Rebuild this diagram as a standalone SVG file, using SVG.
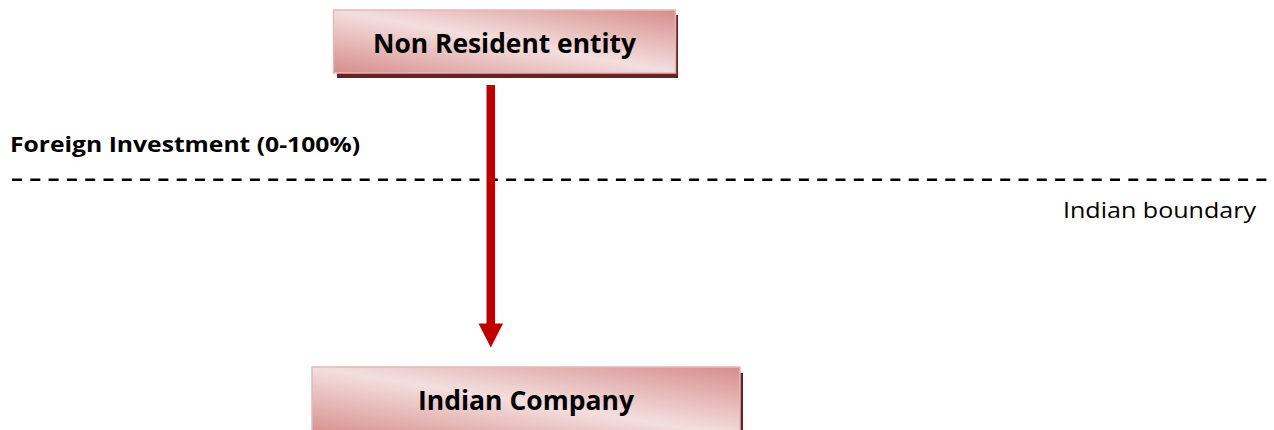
<svg xmlns="http://www.w3.org/2000/svg" width="1274" height="430" viewBox="0 0 1274 430">
  <style>
    .box { fill: url(#boxFill); stroke: #e8b7b6; stroke-width: 1.5; }
    .shadow { fill: #632523; }
    .label { font-family: "Open Sans", "Liberation Sans", sans-serif; font-weight: bold; fill: #000; }
    .note { font-family: "Open Sans", "Liberation Sans", sans-serif; fill: #000; }
    .boundary { stroke: #000; stroke-width: 2.5; stroke-dasharray: 10 8.3; fill: none; }
    .flow { fill: #c00000; }
  </style>
  <defs>
    <linearGradient id="boxFill" x1="0" y1="1" x2="1" y2="0">
      <stop offset="0" stop-color="#d68d8b"/>
      <stop offset="0.5" stop-color="#f3dfde"/>
      <stop offset="1" stop-color="#d68d8b"/>
    </linearGradient>
  </defs>

  <!-- dashed boundary line and its captions -->
  <line class="boundary" x1="12" y1="179.7" x2="1274" y2="179.7"/>
  <text class="label" x="10" y="152" font-size="22" textLength="350" lengthAdjust="spacingAndGlyphs">Foreign Investment (0-100%)</text>
  <text class="note" x="1063" y="218" font-size="22" textLength="193" lengthAdjust="spacingAndGlyphs">Indian boundary</text>

  <!-- connector -->
  <g id="connectors">
    <rect class="flow" x="486.5" y="85" width="8.5" height="240"/>
    <polygon class="flow" points="478.5,323.5 503,323.5 490.8,347.5"/>
  </g>

  <g id="non-resident">
    <rect class="shadow" x="337" y="15" width="341" height="63"/>
    <rect class="box" x="333.5" y="10" width="342" height="63"/>
    <text class="label" x="373" y="52.5" font-size="26" textLength="263" lengthAdjust="spacingAndGlyphs">Non Resident entity</text>
  </g>

  <g id="indian-company">
    <rect class="shadow" x="316" y="373" width="427" height="70"/>
    <rect class="box" x="312" y="367" width="428" height="70"/>
    <text class="label" x="418" y="409.5" font-size="26" textLength="216" lengthAdjust="spacingAndGlyphs">Indian Company</text>
  </g>
</svg>
